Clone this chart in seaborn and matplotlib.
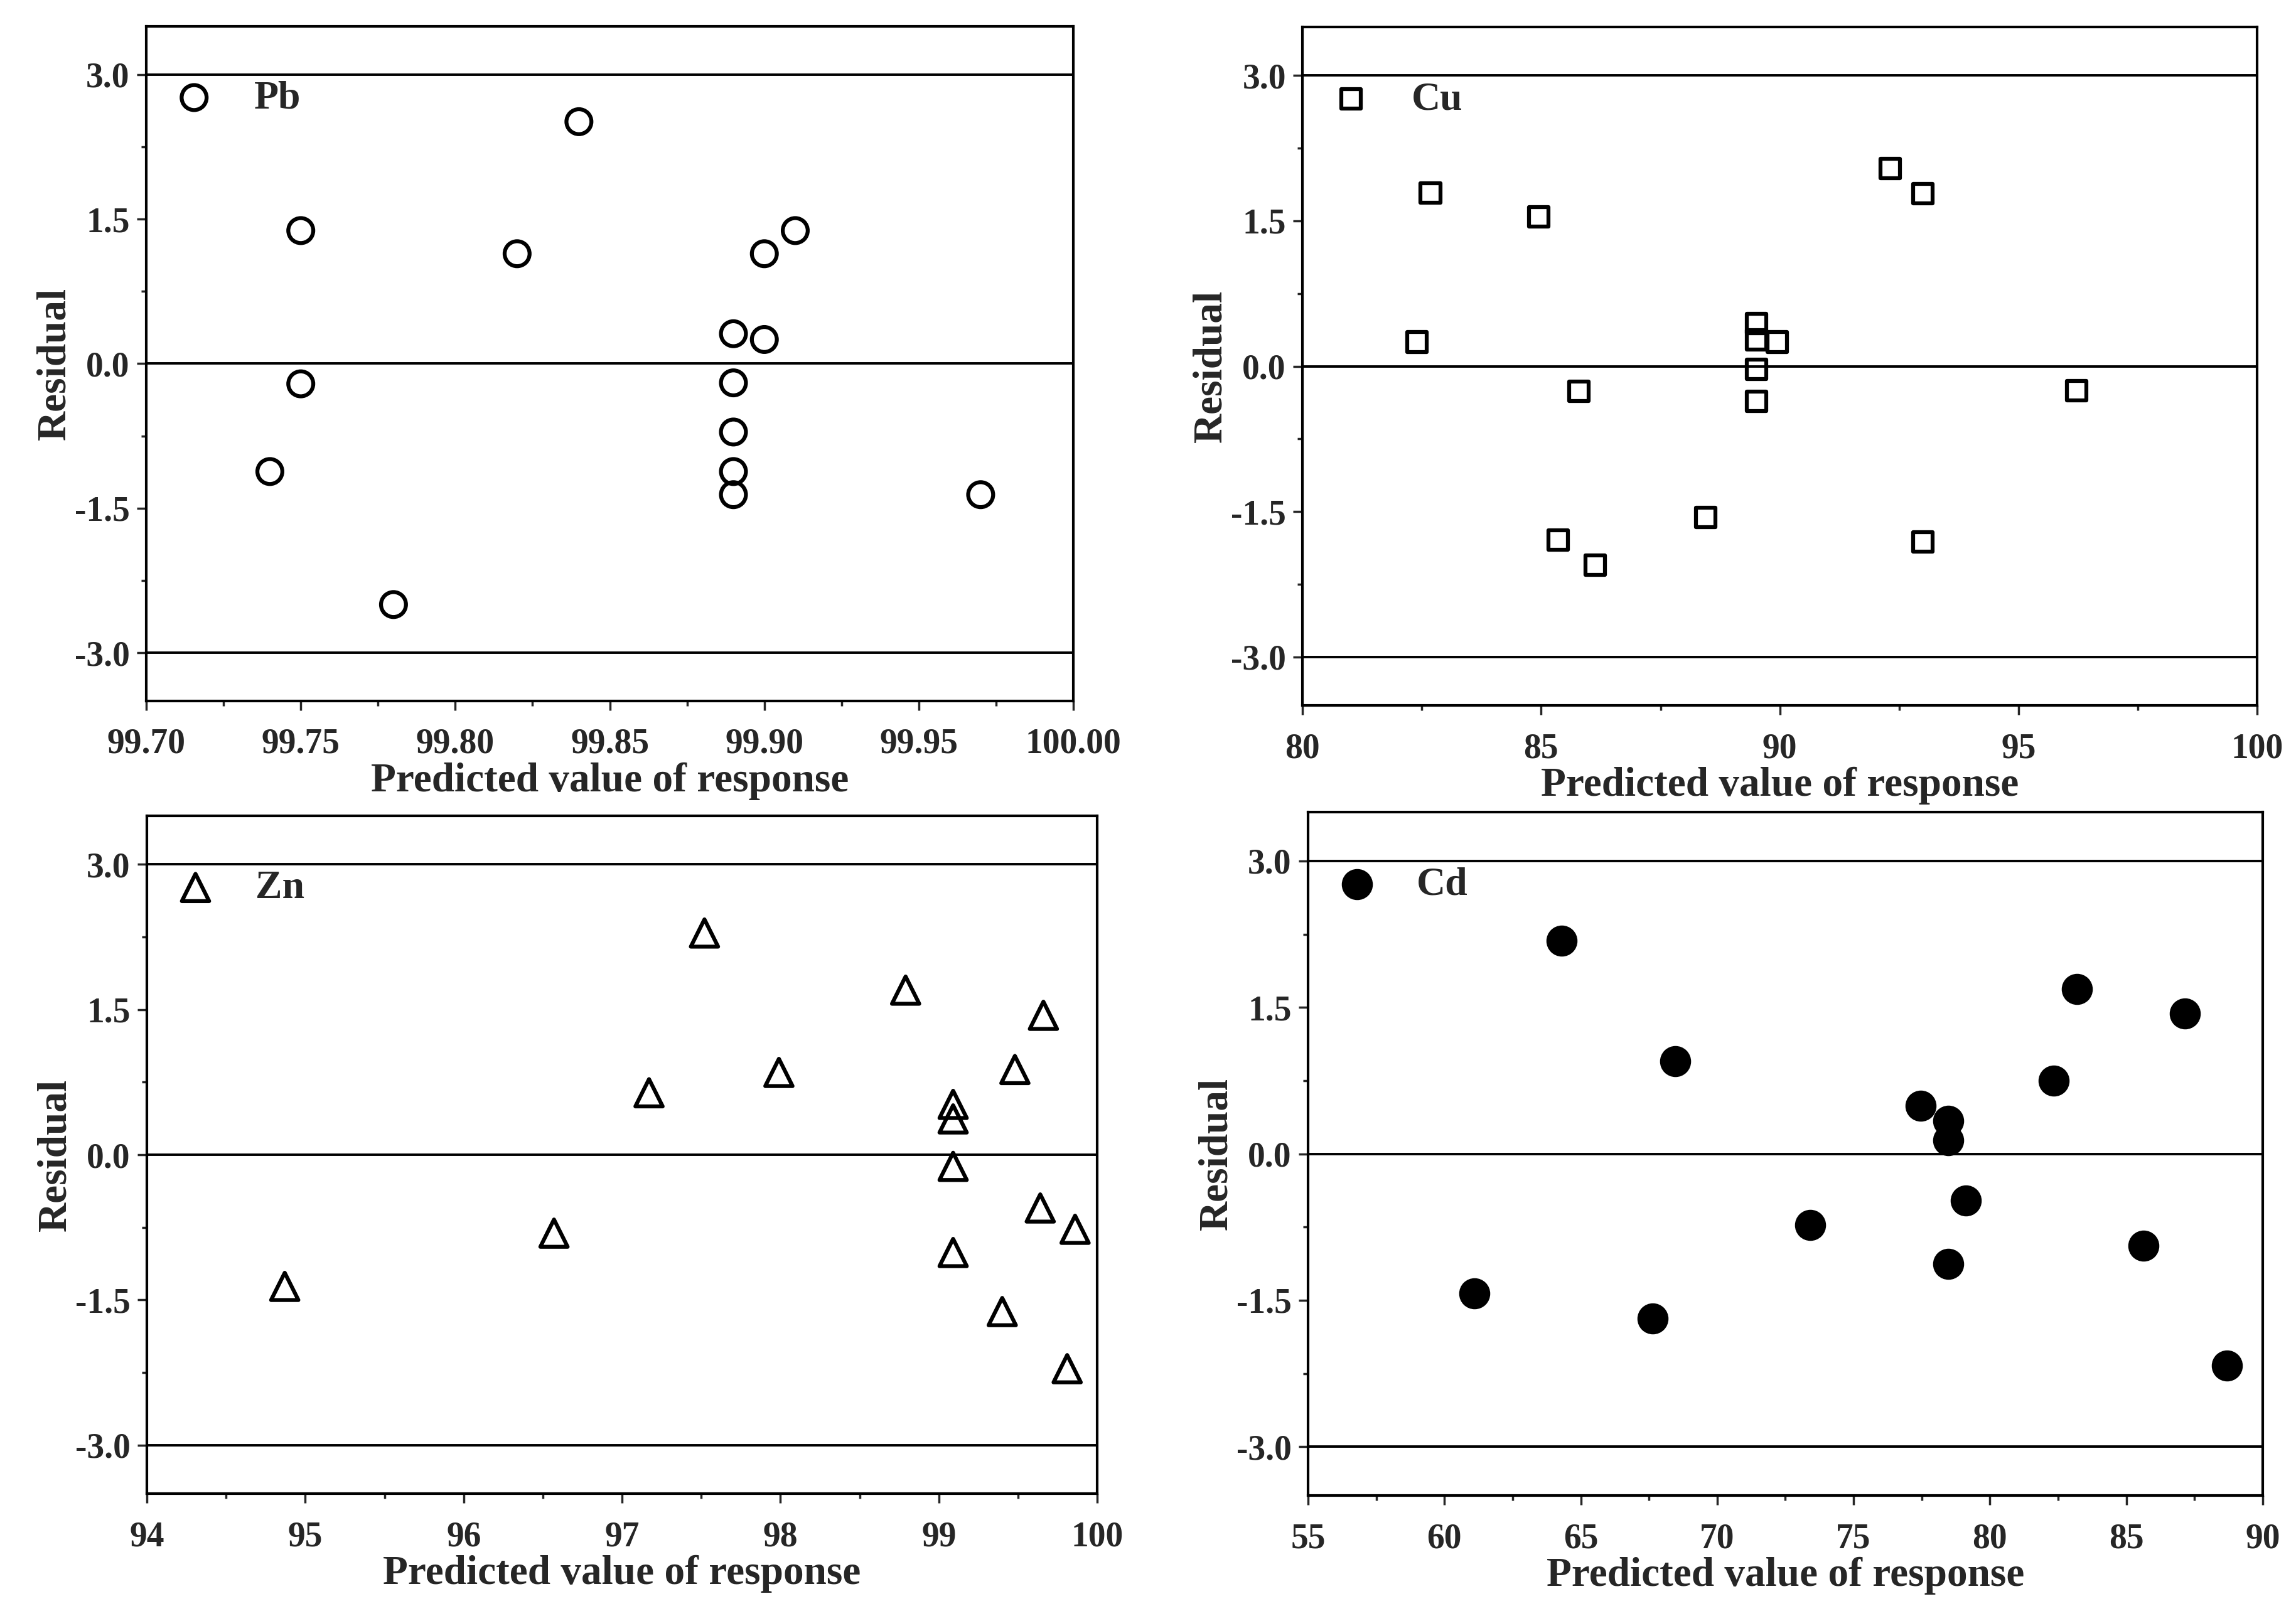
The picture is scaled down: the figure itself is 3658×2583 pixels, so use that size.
import numpy as np
import pandas as pd
import matplotlib
matplotlib.use("Agg")
import matplotlib.pyplot as plt
import seaborn as sns
from matplotlib.ticker import MultipleLocator, FormatStrFormatter

# ---------------- data ----------------
pb_pred = [99.84, 99.75, 99.82, 99.90, 99.91, 99.89, 99.90, 99.75, 99.89, 99.89,
           99.74, 99.89, 99.89, 99.97, 99.78]
pb_resid = [2.51, 1.38, 1.14, 1.14, 1.38, 0.31, 0.25, -0.21, -0.20, -0.71,
            -1.12, -1.12, -1.36, -1.36, -2.50]

cu_pred = [82.68, 84.95, 92.31, 92.99, 82.40, 89.51, 89.51, 89.94, 89.51, 89.51,
           85.79, 96.22, 88.44, 85.36, 86.13, 92.99]
cu_resid = [1.79, 1.54, 2.04, 1.78, 0.25, 0.44, 0.27, 0.25, -0.03, -0.36,
            -0.26, -0.25, -1.56, -1.79, -2.05, -1.81]

zn_pred = [97.52, 98.79, 99.66, 97.99, 97.17, 99.48, 99.09, 99.09, 99.09, 99.64,
           99.86, 99.09, 96.57, 94.87, 99.40, 99.81]
zn_resid = [2.29, 1.70, 1.44, 0.85, 0.64, 0.88, 0.52, 0.37, -0.12, -0.55,
            -0.77, -1.01, -0.81, -1.36, -1.62, -2.21]

cd_pred = [64.29, 68.46, 83.19, 87.15, 82.33, 77.46, 78.48, 78.48, 79.12, 73.42,
           78.48, 85.64, 61.09, 67.63, 88.68]
cd_resid = [2.18, 0.95, 1.69, 1.44, 0.75, 0.49, 0.34, 0.14, -0.48, -0.73,
            -1.13, -0.94, -1.43, -1.69, -2.17]

panels = [
    # name, pred, resid, marker, filled, size, xlim, xmajor, xfmt, axes rect
    ("Pb", pb_pred, pb_resid, "o", False, 820, (99.70, 100.00), 0.05, "%.2f",
     [0.0637, 0.5676, 0.4038, 0.4162]),
    ("Cu", cu_pred, cu_resid, "s", False, 500, (80, 100), 5, "%d",
     [0.5673, 0.5648, 0.4158, 0.4185]),
    ("Zn", zn_pred, zn_resid, "^", False, 980, (94, 100), 1, "%d",
     [0.0640, 0.0786, 0.4139, 0.4181]),
    ("Cd", cd_pred, cd_resid, "o", True, 1200, (55, 90), 5, "%d",
     [0.5697, 0.0774, 0.4158, 0.4216]),
]

sns.set_theme(style="ticks")
plt.rcParams["font.family"] = ["Liberation Serif", "DejaVu Serif"]
plt.rcParams["font.weight"] = "bold"
plt.rcParams["axes.labelweight"] = "bold"

fig = plt.figure(figsize=(36.58, 25.83), dpi=100)

for name, pred, resid, marker, filled, size, xlim, xmajor, xfmt, rect in panels:
    ax = fig.add_axes(rect)
    df = pd.DataFrame({"pred": pred, "resid": resid})

    if filled:
        sns.scatterplot(data=df, x="pred", y="resid", ax=ax, marker=marker, s=size,
                        color="black", edgecolor="black", linewidth=1, label=name, zorder=3)
    else:
        sns.scatterplot(data=df, x="pred", y="resid", ax=ax, marker=marker, s=size,
                        facecolors="none", edgecolor="black", linewidth=4.5, label=name, zorder=3)

    for yy in (3.0, 0.0, -3.0):
        ax.axhline(yy, color="black", lw=2.8, zorder=1)

    ax.set_xlim(*xlim)
    ax.set_ylim(-3.5, 3.5)
    ax.xaxis.set_major_locator(MultipleLocator(xmajor))
    ax.xaxis.set_minor_locator(MultipleLocator(xmajor / 2))
    ax.xaxis.set_major_formatter(FormatStrFormatter(xfmt))
    ax.yaxis.set_major_locator(MultipleLocator(1.5))
    ax.yaxis.set_minor_locator(MultipleLocator(0.75))
    ax.yaxis.set_major_formatter(FormatStrFormatter("%.1f"))

    ax.tick_params(which="major", direction="out", length=11, width=2.5,
                   labelsize=40, top=False, right=False)
    ax.tick_params(which="minor", direction="out", length=6, width=2.5,
                   top=False, right=False)
    ax.tick_params(axis="y", which="major", pad=8)
    ax.tick_params(axis="x", which="major", pad=20)
    for lab in ax.get_xticklabels() + ax.get_yticklabels():
        lab.set_fontweight("bold")
    for sp in ax.spines.values():
        sp.set_linewidth(3)
        sp.set_color("black")

    ax.set_xlabel("Predicted value of response", fontsize=47, fontweight="bold", labelpad=2)
    ax.set_ylabel("Residual", fontsize=47, fontweight="bold", labelpad=1)

    ax.legend(loc="center left", bbox_to_anchor=(0.03, 0.893), frameon=False,
              handlelength=1.0, handletextpad=1.0, borderpad=0, borderaxespad=0,
              prop={"size": 46, "weight": "bold"})
    ax.set_facecolor("white")

fig.savefig("out.png", dpi=100, facecolor="white")
